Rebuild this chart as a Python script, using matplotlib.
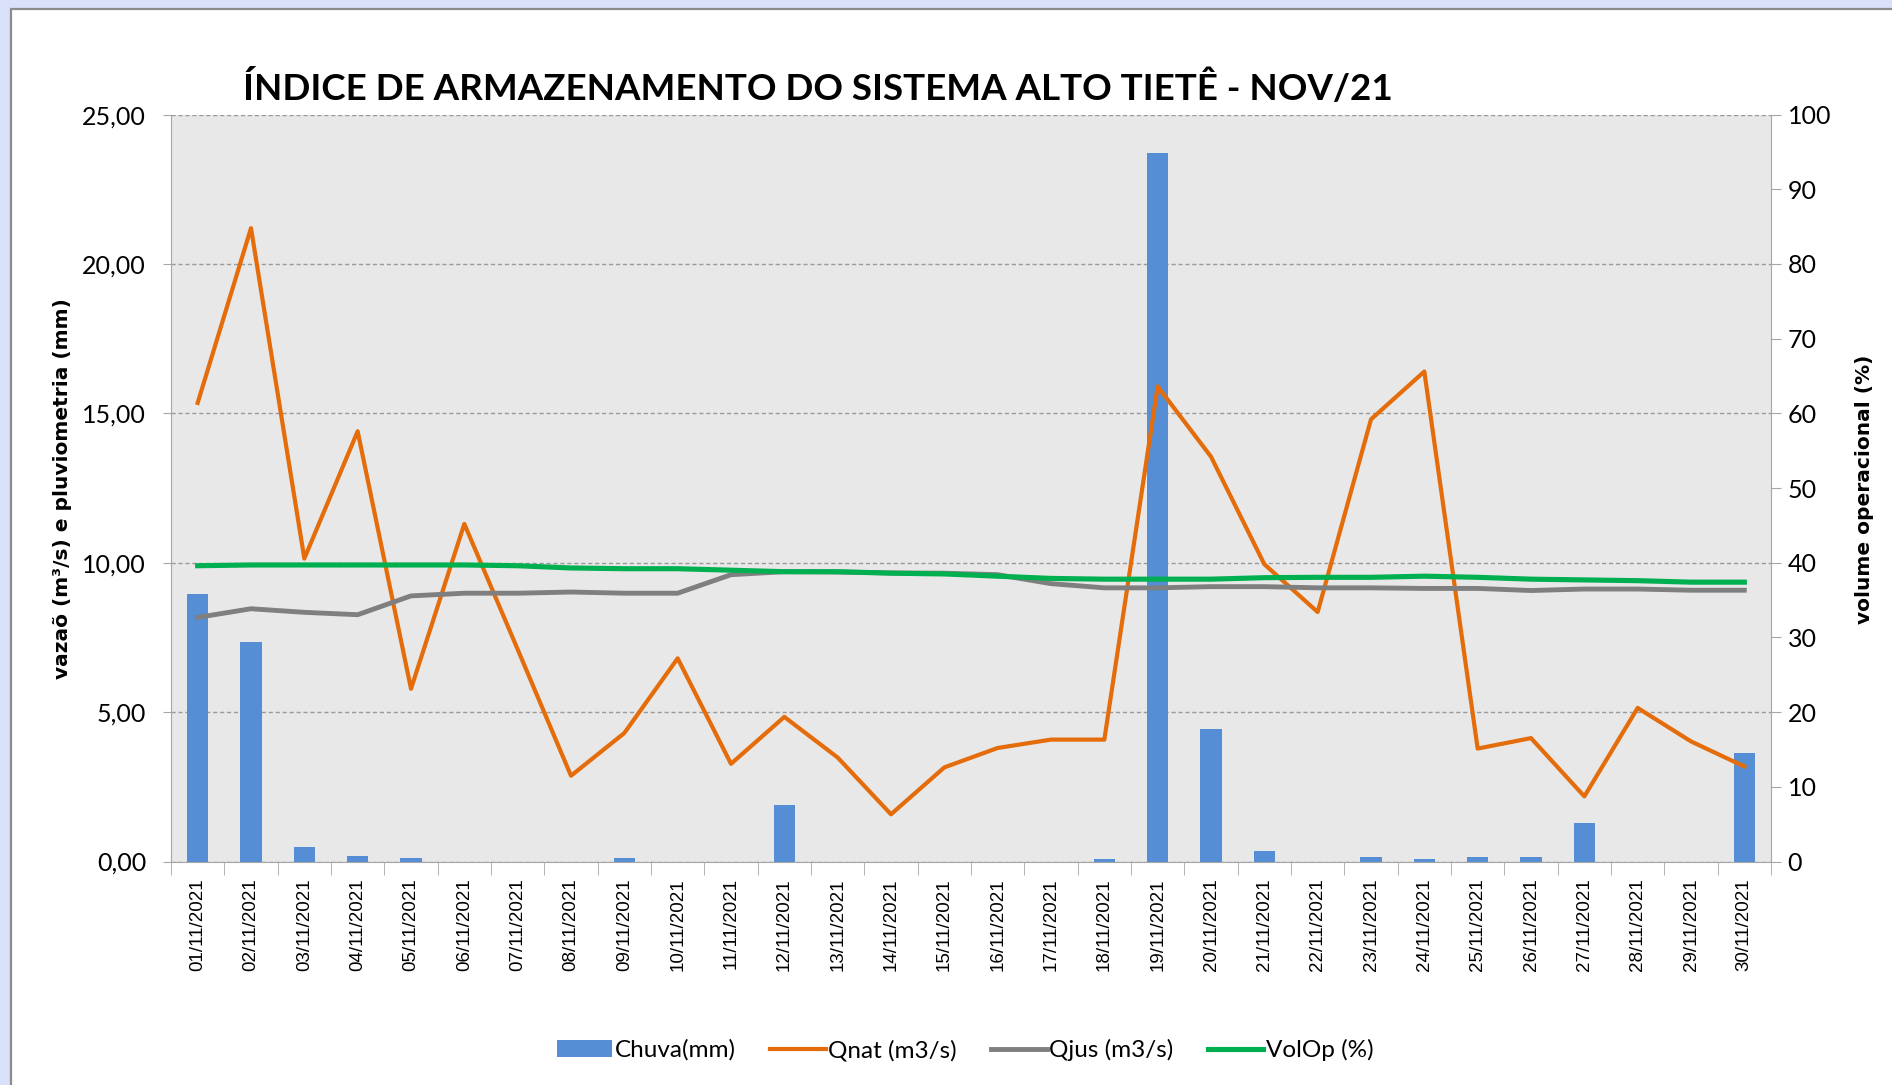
# -*- coding: utf-8 -*-
"""
plot.py
Índice de armazenamento do Sistema Alto Tietê - nov/21
chuva em barras, vazões e volume operacional em linhas
"""

import numpy as np
import matplotlib
matplotlib.use("Agg")
import matplotlib.pyplot as plt
from matplotlib import font_manager
from matplotlib.patches import Rectangle
from matplotlib.ticker import FuncFormatter

# dados
dias = ["%02d/11/2021" % d for d in range(1, 31)]
chuva = [8.94, 7.34, 0.50, 0.18, 0.12, 0, 0, 0, 0.12, 0,
         0, 1.88, 0, 0, 0, 0, 0, 0.09, 23.70, 4.43,
         0.35, 0, 0.15, 0.09, 0.15, 0.15, 1.30, 0, 0, 3.62]
qnat = [15.35, 21.20, 10.14, 14.40, 5.78, 11.30, 7.10, 2.87, 4.30, 6.80,
        3.27, 4.84, 3.48, 1.58, 3.15, 3.80, 4.08, 4.08, 15.90, 13.55,
        9.95, 8.35, 14.80, 16.40, 3.78, 4.13, 2.18, 5.14, 4.02, 3.18]
qjus = [8.17, 8.46, 8.34, 8.26, 8.89, 8.98, 8.98, 9.02, 8.98, 8.98,
        9.60, 9.70, 9.69, 9.66, 9.65, 9.60, 9.30, 9.16, 9.16, 9.20,
        9.20, 9.16, 9.16, 9.14, 9.14, 9.07, 9.12, 9.12, 9.08, 9.08]
volop = [39.6, 39.7, 39.7, 39.7, 39.7, 39.7, 39.6, 39.3, 39.2, 39.2,
         39.0, 38.8, 38.8, 38.6, 38.5, 38.2, 37.9, 37.8, 37.8, 37.8,
         38.0, 38.05, 38.05, 38.2, 38.05, 37.8, 37.7, 37.6, 37.4, 37.4]

# cores
AZUL = "#558ED5"
LARANJA = "#E46C0A"
CINZA = "#7F7F7F"
VERDE = "#00B050"
EIXO = "#A6A6A6"

W, H = 1892, 1085
plt.rcParams['font.family'] = ['Lato', 'DejaVu Sans']

# fonte estreita para as datas, se houver
instaladas = {f.name for f in font_manager.fontManager.ttflist}
if "Liberation Sans Narrow" in instaladas:
    fonte_datas, tam_datas = "Liberation Sans Narrow", 17
else:
    fonte_datas, tam_datas = "Liberation Sans", 13.5

fig = plt.figure(figsize=(W / 100, H / 100), dpi=100, facecolor="#DAE0FA")
# painel branco com borda
fig.patches.append(Rectangle((11 / W, -0.1), 1.2, 1.1 - 9 / H,
                             transform=fig.transFigure, facecolor="white",
                             edgecolor="#8C8C8C", lw=1.6, zorder=-10))

ax = fig.add_axes([171 / W, 1 - 861.5 / H, 1600 / W, (861.5 - 114.6) / H])
ax.set_facecolor("#E8E8E8")
x = np.arange(len(dias))

barras = ax.bar(x, chuva, width=0.4, color=AZUL, zorder=2, label="Chuva(mm)")
l1, = ax.plot(x, qnat, color=LARANJA, lw=3.0, zorder=3, label="Qnat (m3/s)")
l2, = ax.plot(x, qjus, color=CINZA, lw=3.5, zorder=3, label="Qjus (m3/s)")

ax2 = ax.twinx()
l3, = ax2.plot(x, volop, color=VERDE, lw=3.7, label="VolOp (%)")

ax.set_xlim(-0.5, len(dias) - 0.5)
ax.set_ylim(0, 25)
ax2.set_ylim(0, 100)

# grade tracejada
ax.set_yticks(np.arange(0, 26, 5))
ax.yaxis.grid(True, linestyle=(0, (3, 2)), color="#9A9A9A", lw=1.0)
ax.set_axisbelow(True)
ax.yaxis.set_major_formatter(FuncFormatter(lambda v, p: ("%.2f" % v).replace(".", ",")))
ax2.set_yticks(np.arange(0, 101, 10))

ax.spines["top"].set_visible(False)
for s in ["top", "left", "bottom"]:
    ax2.spines[s].set_visible(False)
for s in ["left", "bottom"]:
    ax.spines[s].set_color(EIXO)
ax.spines["right"].set_visible(False)
ax2.spines["right"].set_color(EIXO)

# eixo x: rotulos nas categorias, tracos entre elas
ax.set_xticks(x)
ax.set_xticklabels(dias, rotation=90, fontfamily=fonte_datas, fontsize=tam_datas)
ax.set_xticks(np.arange(-0.5, len(dias), 1), minor=True)
ax.tick_params(axis="x", which="major", length=0, pad=12)
ax.tick_params(axis="x", which="minor", length=9, color=EIXO)
ax.tick_params(axis="y", length=6, color=EIXO, pad=12, labelsize=18)
ax2.tick_params(axis="y", length=7, color=EIXO, pad=5, labelsize=18)

# titulos
fig.text(818 / W, 1 - 88 / H, "ÍNDICE DE ARMAZENAMENTO DO SISTEMA ALTO TIETÊ - NOV/21",
         ha="center", va="center", fontsize=26.5, fontweight="bold")
fig.text(63 / W, 1 - 489 / H, "vazaõ (m³/s) e pluviometria (mm)", rotation=90,
         ha="center", va="center", fontsize=14.5, fontweight="bold", family="DejaVu Sans")
fig.text(1864 / W, 1 - 489 / H, "volume operacional (%)", rotation=90,
         ha="center", va="center", fontsize=14.5, fontweight="bold", family="DejaVu Sans")

# legenda
fig.legend([barras, l1, l2, l3], ["Chuva(mm)", "Qnat (m3/s)", "Qjus (m3/s)", "VolOp (%)"],
           loc="center", bbox_to_anchor=(965 / W, 1 - 1050 / H), ncol=4, frameon=False,
           fontsize=17.5, handlelength=2.3, handleheight=0.7, handletextpad=0.1,
           columnspacing=1.4)

fig.savefig("out.png", dpi=100, facecolor=fig.get_facecolor())
